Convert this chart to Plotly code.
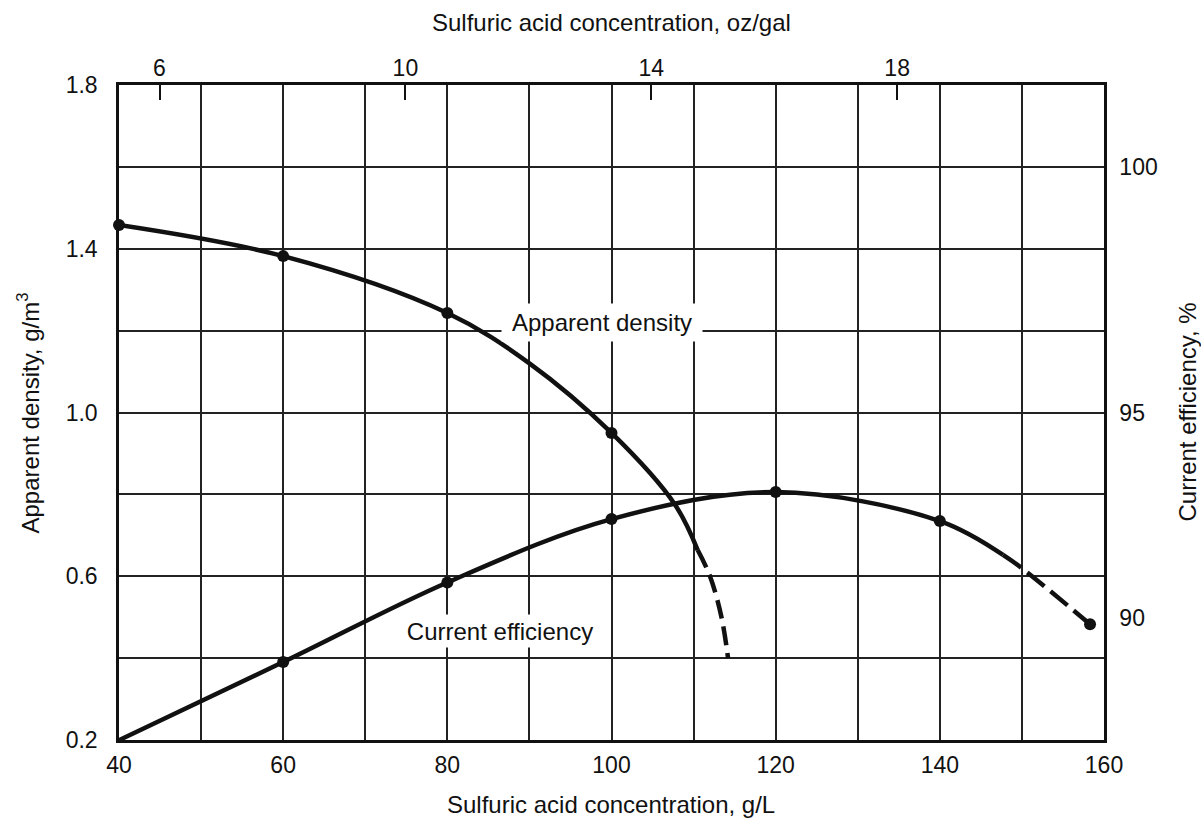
import plotly.graph_objects as go

# ---- data ----
# Apparent density (left axis, g/m3) vs sulfuric acid g/L
dens_solid_x = [40, 60, 80, 90, 100, 107.7, 110.5]
dens_solid_y = [1.458, 1.382, 1.243, 1.12, 0.95, 0.776, 0.664]
dens_dash_x = [110.5, 112.0, 113.4, 114.2]
dens_dash_y = [0.664, 0.60, 0.50, 0.40]
dens_pts_x = [40, 60, 80, 100]
dens_pts_y = [1.458, 1.382, 1.243, 0.95]

# Current efficiency (right axis, %) vs sulfuric acid g/L
eff_solid_x = [40, 60, 80, 100, 120, 140, 147.7]
eff_solid_y = [88.33, 89.92, 91.54, 92.83, 93.38, 92.79, 92.10]
eff_dash_x = [147.7, 150, 158.3]
eff_dash_y = [92.10, 91.83, 90.69]
eff_pts_x = [40, 60, 80, 100, 120, 140, 158.3]
eff_pts_y = [88.33, 89.92, 91.54, 92.83, 93.38, 92.79, 90.69]

# axes
x_range = [40, 160]
y_range = [0.2, 1.8]
y2_range = [88.333, 101.667]
y2_tickvals = [90.82, 95, 100]
y2_ticktext = ["90", "95", "100"]
oz_ticks = [6, 10, 14, 18]
GPL_PER_OZGAL = 7.489

x_title = "Sulfuric acid concentration, g/L"
x2_title = "Sulfuric acid concentration, oz/gal"
y_title = "Apparent density, g/m<sup>3</sup>"
y2_title = "Current efficiency, %"

FONT = "Liberation Sans, Arial, Helvetica, sans-serif"
INK = "#111111"
LW = 4.5

fig = go.Figure()

def line(x, y, dash="solid", yaxis="y"):
    fig.add_trace(go.Scatter(x=x, y=y, mode="lines", yaxis=yaxis,
                             line=dict(color=INK, width=LW, dash=dash, shape="spline", smoothing=1.0),
                             showlegend=False, hoverinfo="skip"))

line(dens_solid_x, dens_solid_y)
line(dens_dash_x, dens_dash_y, dash="19px,8px")
line(eff_solid_x, eff_solid_y, yaxis="y2")
line(eff_dash_x, eff_dash_y, dash="22px,8px", yaxis="y2")

fig.add_trace(go.Scatter(x=dens_pts_x, y=dens_pts_y, mode="markers",
                         marker=dict(color=INK, size=12), showlegend=False, cliponaxis=False))
fig.add_trace(go.Scatter(x=eff_pts_x, y=eff_pts_y, mode="markers", yaxis="y2",
                         marker=dict(color=INK, size=12), showlegend=False, cliponaxis=False))

# invisible trace to activate top axis
fig.add_trace(go.Scatter(x=[x_range[0] / GPL_PER_OZGAL], y=[1.0], xaxis="x2", mode="markers",
                         marker=dict(opacity=0), showlegend=False, hoverinfo="skip"))

grid = dict(gridcolor="#222222", gridwidth=1.5)
axline = dict(showline=True, linecolor=INK, linewidth=2.5, zeroline=False, automargin=False)

title_font = dict(size=24, family=FONT, color=INK)

fig.update_layout(
    width=1201, height=820,
    margin=dict(l=119, r=97, t=85, b=80),
    paper_bgcolor="white", plot_bgcolor="white",
    font=dict(family=FONT, size=23, color=INK),
    xaxis=dict(range=x_range, tick0=40, dtick=20, showgrid=True, **grid,
               minor=dict(dtick=10, showgrid=True, **grid),
               ticks="", ticklabelstandoff=3, **axline),
    xaxis2=dict(range=[x_range[0] / GPL_PER_OZGAL, x_range[1] / GPL_PER_OZGAL],
                overlaying="x", side="top", tickvals=oz_ticks, ticks="inside", ticklen=15,
                tickwidth=2, tickcolor=INK, showgrid=False, ticklabelstandoff=-3, **axline),
    yaxis=dict(range=y_range, tick0=0.2, dtick=0.4, tickformat=".1f", showgrid=True, **grid,
               minor=dict(dtick=0.2, showgrid=True, **grid),
               ticks="", ticklabelstandoff=14, **axline),
    yaxis2=dict(range=y2_range, overlaying="y", side="right", tickvals=y2_tickvals,
                ticktext=y2_ticktext, showgrid=False, ticks="", ticklabelstandoff=8, **axline),
    annotations=[
        dict(x=98.8, y=1.221, xref="x", yref="y", text="Apparent density", showarrow=False,
             font=title_font, bgcolor="white", width=200, height=37, borderpad=0),
        dict(x=86.4, y=0.466, xref="x", yref="y", text="Current efficiency", showarrow=False,
             font=title_font, bgcolor="white", width=210, height=32, borderpad=0),
        dict(x=0.4995, y=-0.0992, xref="paper", yref="paper", text=x_title, showarrow=False,
             font=title_font, xanchor="center", yanchor="middle"),
        dict(x=0.4995, y=1.0947, xref="paper", yref="paper", text=x2_title, showarrow=False,
             font=title_font, xanchor="center", yanchor="middle"),
        dict(x=-0.0924, y=0.5, xref="paper", yref="paper", text=y_title, showarrow=False,
             font=title_font, textangle=-90, xanchor="center", yanchor="middle"),
        dict(x=1.0843, y=0.5, xref="paper", yref="paper", text=y2_title, showarrow=False,
             font=title_font, textangle=-90, xanchor="center", yanchor="middle"),
    ],
)

fig.write_html("out.html", config={"displayModeBar": False},
               post_script="document.body.style.margin='0';document.body.style.overflow='hidden';")
